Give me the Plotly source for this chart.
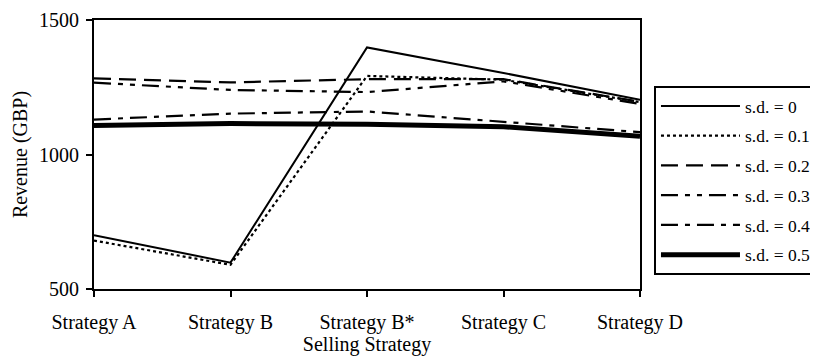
import plotly.graph_objects as go

categories = ["Strategy A", "Strategy B", "Strategy B*", "Strategy C", "Strategy D"]
series_names = ["s.d. = 0", "s.d. = 0.1", "s.d. = 0.2", "s.d. = 0.3", "s.d. = 0.4", "s.d. = 0.5"]
sd_0 = [700, 598, 1398, 1303, 1203]
sd_01 = [680, 590, 1292, 1278, 1195]
sd_02 = [1283, 1268, 1280, 1280, 1196]
sd_03 = [1267, 1240, 1232, 1272, 1188]
sd_04 = [1130, 1152, 1160, 1122, 1083]
sd_05 = [1108, 1115, 1112, 1103, 1068]
y_ticks = [500, 1000, 1500]

values = [sd_0, sd_01, sd_02, sd_03, sd_04, sd_05]
dashes = ["solid", "3px,3px", "17px,8px", "17px,7px,5px,7px,5px,7px", "17px,7px,5px,7px", "solid"]
widths = [2, 2.2, 2.2, 2.2, 2.2, 5]

FONT = "Liberation Serif"
FS = 20
LFS = 17.5

fig = go.Figure()
for name, vals, d, w in zip(series_names, values, dashes, widths):
    fig.add_trace(go.Scatter(
        x=categories, y=vals, name=name, mode="lines",
        line=dict(color="black", width=w, dash=d),
        legendgroup=name,
    ))

# page body has an 8px margin, so the figure is 810x348 and offset by 8px
fig.update_layout(
    width=810, height=348,
    margin=dict(l=86, r=178, t=12, b=67, autoexpand=False),
    paper_bgcolor="white", plot_bgcolor="white",
    font=dict(family=FONT, size=FS, color="black"),
    showlegend=True,
    legend=dict(
        x=1.0256, y=0.7546, xanchor="left", yanchor="top",
        bordercolor="black", borderwidth=2,
        itemwidth=79, tracegroupgap=4,
        font=dict(family=FONT, size=LFS, color="black"),
        bgcolor="white",
    ),
)
fig.update_xaxes(
    type="category", range=[0, 4],
    showline=True, linecolor="black", linewidth=2, mirror=True,
    ticks="outside", ticklen=6, tickwidth=2, tickcolor="black",
    tickfont=dict(family=FONT, size=FS, color="black"),
    ticklabelstandoff=8,
    showgrid=False, zeroline=False,
    title=dict(text="Selling Strategy", standoff=0, font=dict(family=FONT, size=FS, color="black")),
)
fig.update_yaxes(
    range=[500, 1500], tickvals=y_ticks,
    showline=True, linecolor="black", linewidth=2, mirror=True,
    ticks="outside", ticklen=6, tickwidth=2, tickcolor="black",
    tickfont=dict(family=FONT, size=FS, color="black"),
    ticklabelstandoff=3,
    showgrid=False, zeroline=False,
    title=dict(text="Revenue (GBP)", standoff=6, font=dict(family=FONT, size=FS, color="black")),
)

fig.write_html("out.html")
